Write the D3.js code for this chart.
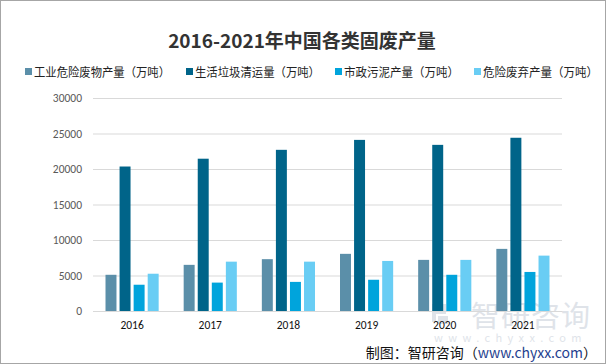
<!DOCTYPE html>
<html>
<head>
<meta charset="utf-8">
<script src="https://cdn.jsdelivr.net/npm/d3@7"></script>
<style>
  html, body { margin: 0; padding: 0; background: #fff; }
  svg { display: block; font-family: "Microsoft YaHei", "Noto Sans CJK SC", sans-serif; }
</style>
</head>
<body>
<svg id="chart" width="606" height="364"></svg>
<script>
// data
var years = ["2016", "2017", "2018", "2019", "2020", "2021"];
var seriesNames = ["工业危险废物产量（万吨）", "生活垃圾清运量（万吨）", "市政污泥产量（万吨）", "危险废弃产量（万吨）"];
var industrialWaste = [5100, 6500, 7300, 8050, 7200, 8750];
var householdWaste = [20350, 21450, 22700, 24100, 23400, 24400];
var municipalSludge = [3700, 4000, 4100, 4400, 5100, 5500];
var hazardousWaste = [5250, 6950, 6950, 7050, 7200, 7800];
var yTicks = [0, 5000, 10000, 15000, 20000, 25000, 30000];
var colors = ["#5b8fa9", "#006489", "#00a4dc", "#69cdf4"];

var svg = d3.select("#chart");
var width = +svg.attr("width"), height = +svg.attr("height");

svg.append("rect")
  .attr("x", 0.5).attr("y", 0.5)
  .attr("width", width - 1).attr("height", height - 1)
  .attr("fill", "#fff").attr("stroke", "#a6a6a6");

// title
svg.append("text")
  .attr("x", 302).attr("y", 48)
  .attr("text-anchor", "middle")
  .attr("font-size", 19).attr("font-weight", "bold")
  .attr("fill", "#333")
  .text("2016-2021年中国各类固废产量");

// legend
var legendX = [25, 186, 335, 474];
var legendW = [136, 125, 115, 115];
var legend = svg.selectAll(".legend")
  .data(seriesNames).enter().append("g")
  .attr("class", "legend")
  .attr("transform", function(d, i) { return "translate(" + legendX[i] + ",72)"; });
legend.append("rect")
  .attr("x", 0).attr("y", -4).attr("width", 7).attr("height", 7)
  .attr("fill", function(d, i) { return colors[i]; });
legend.append("text")
  .attr("x", 9).attr("y", 4.5)
  .attr("font-size", 12).attr("fill", "#222")
  .attr("textLength", function(d, i) { return legendW[i]; })
  .attr("lengthAdjust", "spacingAndGlyphs")
  .text(function(d) { return d; });

// watermark
var wm = svg.append("g").attr("opacity", 0.45);
wm.append("path")
  .attr("d", "M432,304 h14 v10 h-10 v8 h-4 z M438,316 h10 v8 h-10 z")
  .attr("fill", "#b9c3d0");
wm.append("text")
  .attr("x", 471).attr("y", 327)
  .attr("font-size", 29).attr("fill", "#b9c3d0")
  .attr("letter-spacing", 1)
  .text("智研咨询");
wm.append("text")
  .attr("x", 434).attr("y", 342)
  .attr("font-size", 11).attr("fill", "#b9c3d0")
  .attr("letter-spacing", 5.4)
  .text("www.chyxx.com");

var margin = { top: 98, left: 93, right: 44, bottom: 53 };
var plotW = width - margin.left - margin.right;
var plotH = height - margin.top - margin.bottom;

var g = svg.append("g").attr("transform", "translate(" + margin.left + "," + margin.top + ")");

var x = d3.scaleBand().domain(years).range([0, plotW]).paddingInner(0.32).paddingOuter(0.16);
var xInner = d3.scaleBand().domain(d3.range(4)).range([0, x.bandwidth()]).paddingInner(0.22);
var y = d3.scaleLinear().domain([0, 30000]).range([plotH, 0]);

var yAxis = g.append("g")
  .call(d3.axisLeft(y).tickValues(yTicks).tickSize(-plotW).tickPadding(11).tickFormat(d3.format("d")));
yAxis.select(".domain").remove();
yAxis.selectAll(".tick line").attr("stroke", "#d9d9d9").attr("stroke-width", 1);
yAxis.selectAll(".tick text").attr("fill", "#595959").attr("font-size", 11.5)
  .attr("font-family", "Calibri, Carlito, 'Liberation Sans', sans-serif");

var xAxis = g.append("g")
  .attr("transform", "translate(0," + plotH + ")")
  .call(d3.axisBottom(x).tickSize(0).tickPadding(10));
xAxis.select(".domain").attr("stroke", "#d9d9d9");
xAxis.selectAll(".tick text").attr("fill", "#111").attr("font-size", 11.5)
  .attr("font-family", "Calibri, Carlito, 'Liberation Sans', sans-serif");

var series = [industrialWaste, householdWaste, municipalSludge, hazardousWaste];
series.forEach(function(vals, si) {
  g.selectAll(".bar" + si)
    .data(vals).enter().append("rect")
    .attr("x", function(d, i) { return x(years[i]) + xInner(si); })
    .attr("y", function(d) { return y(d); })
    .attr("width", xInner.bandwidth())
    .attr("height", function(d) { return plotH - y(d); })
    .attr("fill", colors[si]);
});

// source line
var src = svg.append("text")
  .attr("x", 597).attr("y", 358)
  .attr("text-anchor", "end")
  .attr("font-size", 14).attr("fill", "#111");
src.append("tspan").text("制图：智研咨询（");
src.append("tspan").attr("fill", "#1f3f8f").text("www.chyxx.com");
src.append("tspan").text("）");
</script>
</body>
</html>
